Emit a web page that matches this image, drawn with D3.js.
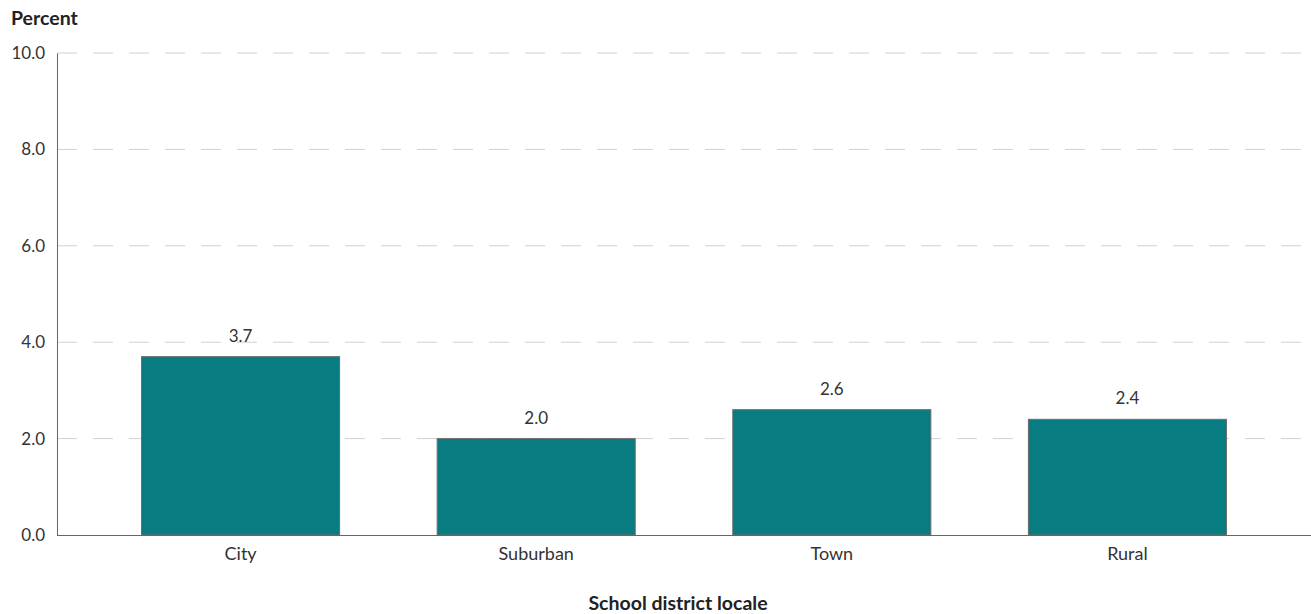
<!DOCTYPE html>
<html>
<head>
<meta charset="utf-8">
<script src="https://cdn.jsdelivr.net/npm/d3@7"></script>
<style>
  html, body { margin: 0; padding: 0; background: #fff; }
  svg { display: block; font-family: "Lato", "Open Sans", sans-serif; }
</style>
</head>
<body>
<svg id="chart" width="1311" height="614"></svg>
<script>
// Share of students by school district locale
const categories = ["City", "Suburban", "Town", "Rural"];
const values = [3.7, 2.0, 2.6, 2.4];
const yTicks = [0, 2, 4, 6, 8, 10];

const svg = d3.select("#chart");
const margin = { left: 57, right: 0, top: 53, bottom: 79 };
const W = 1311, H = 614;
const FONT = "Lato, 'Open Sans', sans-serif";

const x = d3.scaleBand()
  .domain(categories)
  .range([margin.left, W - margin.right])
  .paddingInner(0.33)
  .paddingOuter(0.286);

const y = d3.scaleLinear()
  .domain([0, 10])
  .range([H - margin.bottom, margin.top]);

// dashed horizontal gridlines
svg.append("g")
  .selectAll("line")
  .data(yTicks.filter(d => d > 0))
  .join("line")
  .attr("x1", margin.left)
  .attr("x2", W)
  .attr("y1", d => y(d))
  .attr("y2", d => y(d))
  .attr("stroke", "#d0d0d0")
  .attr("stroke-width", 1)
  .attr("stroke-dasharray", "20,16");

// y axis
const yAxis = svg.append("g")
  .attr("transform", `translate(${margin.left},0)`)
  .call(d3.axisLeft(y).tickValues(yTicks).tickFormat(d3.format(".1f")).tickSize(0).tickPadding(12));
yAxis.select(".domain").attr("stroke", "#666");
yAxis.selectAll("text")
  .attr("font-size", 17)
  .attr("fill", "#333")
  .style("font-family", FONT);

// bars
svg.append("g")
  .selectAll("rect")
  .data(categories)
  .join("rect")
  .attr("x", d => x(d))
  .attr("width", x.bandwidth())
  .attr("y", (d, i) => y(values[i]))
  .attr("height", (d, i) => y(0) - y(values[i]))
  .attr("fill", "#087c80")
  .attr("stroke", "#6b6b6b")
  .attr("stroke-width", 1);

// value labels
svg.append("g")
  .selectAll("text")
  .data(categories)
  .join("text")
  .attr("x", d => x(d) + x.bandwidth() / 2)
  .attr("y", (d, i) => y(values[i]) - 15)
  .attr("text-anchor", "middle")
  .attr("font-size", 17)
  .attr("fill", "#333")
  .text((d, i) => d3.format(".1f")(values[i]));

// x axis
const xAxis = svg.append("g")
  .attr("transform", `translate(0,${y(0)})`)
  .call(d3.axisBottom(x).tickSize(0).tickPadding(12));
xAxis.select(".domain").attr("stroke", "#666").attr("d", `M${margin.left},0.5H${W}`);
xAxis.selectAll("text")
  .attr("font-size", 18)
  .attr("fill", "#333")
  .style("font-family", FONT);

// axis titles
svg.append("text")
  .attr("x", 11)
  .attr("y", 25)
  .attr("font-size", 19.5)
  .attr("font-weight", "bold")
  .attr("fill", "#222")
  .text("Percent");

svg.append("text")
  .attr("x", 678)
  .attr("y", 610)
  .attr("text-anchor", "middle")
  .attr("font-size", 19.5)
  .attr("font-weight", "bold")
  .attr("fill", "#222")
  .text("School district locale");
</script>
</body>
</html>
